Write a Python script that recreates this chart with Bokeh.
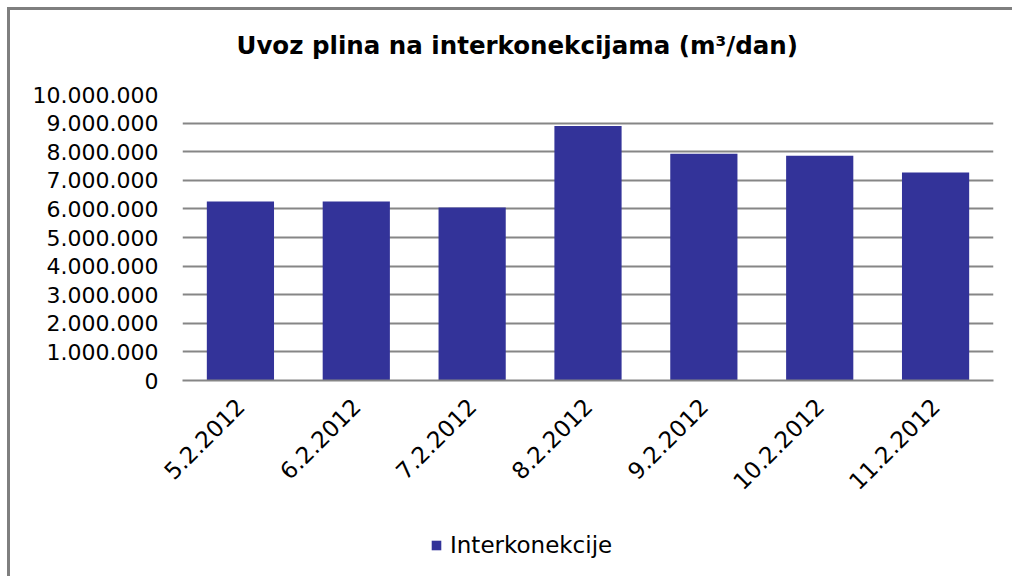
from bokeh.plotting import figure
from bokeh.layouts import column
from bokeh.models import Range1d, FactorRange, FixedTicker, CustomJSTickFormatter, Legend, LegendItem, ColumnDataSource, Label
from bokeh.embed import file_html
from bokeh.resources import INLINE
import math

# Data
dates = ["5.2.2012", "6.2.2012", "7.2.2012", "8.2.2012", "9.2.2012", "10.2.2012", "11.2.2012"]
values = [6260000, 6260000, 6050000, 8900000, 7930000, 7860000, 7270000]
y_ticks = [0, 1000000, 2000000, 3000000, 4000000, 5000000, 6000000, 7000000, 8000000, 9000000, 10000000]
series_name = "Interkonekcije"
title_text = "Uvoz plina na interkonekcijama (m³/dan)"

FONT = "DejaVu Sans"
GRID = "#868686"
BAR = "#333399"
BORDER = "3px solid #7f7f7f"
W = 1005
ML = 172
FW = 811
MR = W - ML - FW

src = ColumnDataSource(dict(x=dates, top=values))

# title strip
H0 = 67
p0 = figure(width=W, height=H0, output_backend="svg", toolbar_location=None,
            x_range=Range1d(0, FW), y_range=Range1d(0, H0),
            x_axis_location=None, y_axis_location=None)
p0.min_border_left = ML
p0.min_border_right = MR
p0.min_border_top = 0
p0.min_border_bottom = 0
p0.grid.visible = False
p0.outline_line_color = None
p0.add_layout(Label(x=54, y=H0 - 35, text=title_text, text_font=FONT, text_font_size="24.5px",
                    text_font_style="bold", text_color="#000000", text_align="left",
                    text_baseline="middle"))
p0.styles = {"border-top": BORDER, "border-left": BORDER}

# main chart
p = figure(width=W, height=426, x_range=FactorRange(*dates, range_padding=0),
           y_range=Range1d(0, y_ticks[-1]), output_backend="svg", toolbar_location=None)
p.min_border_left = ML
p.min_border_right = MR
p.min_border_top = 20
p.min_border_bottom = 117
p.outline_line_color = None
p.styles = {"border-left": BORDER}

r = p.vbar(x="x", top="top", width=0.58, source=src, fill_color=BAR, line_color=None)

p.yaxis.ticker = FixedTicker(ticks=y_ticks)
p.yaxis.formatter = CustomJSTickFormatter(code="return tick.toFixed(0).replace(/\\B(?=(\\d{3})+(?!\\d))/g, '.');")
p.yaxis.axis_line_color = None
p.yaxis.major_tick_line_color = None
p.yaxis.minor_tick_line_color = None
p.yaxis.major_label_standoff = 18
p.yaxis.major_label_text_font = FONT
p.yaxis.major_label_text_font_size = "22px"
p.yaxis.major_label_text_color = "#000000"

p.ygrid.grid_line_color = GRID
p.ygrid.grid_line_width = 2
p.xgrid.grid_line_color = None

p.xaxis.axis_line_color = GRID
p.xaxis.axis_line_width = 2
p.xaxis.major_tick_line_color = None
p.xaxis.minor_tick_line_color = None
p.xaxis.major_label_orientation = math.pi / 4
p.xaxis.major_label_standoff = 16
p.xaxis.major_label_text_font = FONT
p.xaxis.major_label_text_font_size = "23px"
p.xaxis.major_label_text_color = "#000000"

# legend strip
p2 = figure(width=W, height=76, output_backend="svg", toolbar_location=None,
            x_range=FactorRange(*dates), y_range=Range1d(0, y_ticks[-1]),
            x_axis_location=None, y_axis_location=None)
p2.min_border_left = ML
p2.min_border_right = MR
p2.min_border_top = 0
p2.min_border_bottom = 0
p2.grid.visible = False
p2.outline_line_color = None
p2.styles = {"border-left": BORDER}
r2 = p2.vbar(x="x", top="top", width=0.58, source=src, fill_color=BAR, line_color=None)
r2.visible = False

legend = Legend(items=[LegendItem(label=series_name, renderers=[r2])], location=(248, 18),
                orientation="horizontal", border_line_color=None, background_fill_alpha=0,
                glyph_width=12, glyph_height=12, label_text_font=FONT, label_text_font_size="23px",
                label_text_color="#000000", label_standoff=8, padding=0, margin=0, spacing=0,
                inactive_fill_alpha=0)
p2.add_layout(legend, "center")

layout = column(p0, p, p2, spacing=0)
layout.styles = {"margin-left": "7px", "margin-top": "7px"}

open("out.html", "w").write(file_html(layout, INLINE))
